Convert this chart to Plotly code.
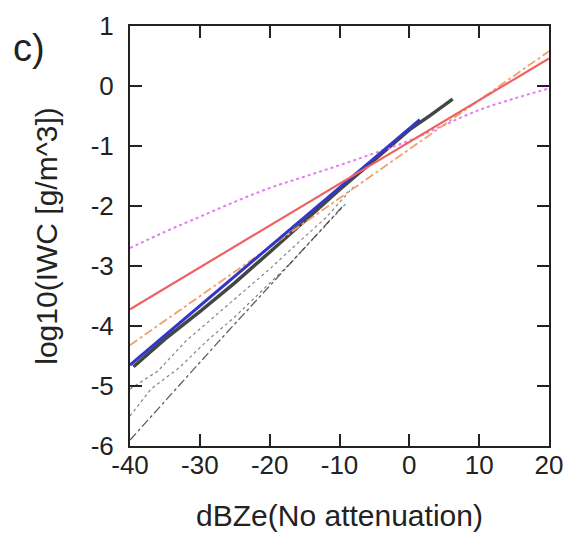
import plotly.graph_objects as go

# ---- data ----
pink_x = [-40, -35, -30, -25, -20, -15, -10, -5, 0, 5, 10, 15, 20]
pink_y = [-2.70, -2.43, -2.18, -1.93, -1.70, -1.51, -1.32, -1.12, -0.91, -0.65, -0.40, -0.21, -0.04]

red_x = [-40, 20]
red_y = [-3.72, 0.46]

orange_x = [-40, 20]
orange_y = [-4.32, 0.58]

blue_x = [-40, 1.5]
blue_y = [-4.65, -0.56]

band_x = [-39.5, -35, -30, -25, -20, -15, -10, -5, 0, 3, 6.2]
band_y = [-4.68, -4.22, -3.76, -3.28, -2.77, -2.25, -1.73, -1.23, -0.73, -0.49, -0.22]

mid1_x = [-40, -36, -32, -28, -24, -20, -16, -12, -8]
mid1_y = [-5.05, -4.75, -4.25, -3.85, -3.45, -3.05, -2.62, -2.20, -1.68]

mid2_x = [-40, -37, -33, -29, -25, -21, -17, -13, -9]
mid2_y = [-5.50, -5.05, -4.70, -4.25, -3.85, -3.40, -2.95, -2.45, -1.95]

low_x = [-40, -27, -9.5]
low_y = [-5.90, -4.22, -2.00]

x_ticks = [-40, -30, -20, -10, 0, 10, 20]
y_ticks = [-6, -5, -4, -3, -2, -1, 0, 1]

FONT = "Liberation Sans, Arial, sans-serif"
PAGE_OFFSET = 8  # default body margin of the html page

fig = go.Figure()

fig.add_trace(go.Scatter(x=mid2_x, y=mid2_y, mode="lines",
                         line=dict(color="rgba(50,50,50,0.6)", width=1.2, dash="dot")))
fig.add_trace(go.Scatter(x=mid1_x, y=mid1_y, mode="lines",
                         line=dict(color="rgba(50,50,50,0.6)", width=1.2, dash="dot")))
fig.add_trace(go.Scatter(x=low_x, y=low_y, mode="lines",
                         line=dict(color="rgba(40,40,40,0.75)", width=1.3, dash="dashdot")))
fig.add_trace(go.Scatter(x=band_x, y=band_y, mode="lines",
                         line=dict(color="rgba(20,25,20,0.8)", width=3.5)))
fig.add_trace(go.Scatter(x=pink_x, y=pink_y, mode="lines", line_shape="spline",
                         line=dict(color="#e27ef0", width=2, dash="dot")))
fig.add_trace(go.Scatter(x=orange_x, y=orange_y, mode="lines",
                         line=dict(color="#f0a070", width=1.8, dash="dashdot")))
fig.add_trace(go.Scatter(x=blue_x, y=blue_y, mode="lines",
                         line=dict(color="#3535c8", width=3)))
fig.add_trace(go.Scatter(x=red_x, y=red_y, mode="lines",
                         line=dict(color="#f06060", width=2.2)))

axis_common = dict(
    showgrid=False, zeroline=False, showline=True, linecolor="#222", linewidth=2,
    mirror="ticks", ticks="inside", ticklen=12, tickwidth=2, tickcolor="#222",
    automargin=False,
    tickfont=dict(family=FONT, size=26, color="#222"),
)

fig.update_layout(
    width=574 - PAGE_OFFSET, height=537 - PAGE_OFFSET,
    margin=dict(l=130 - PAGE_OFFSET, r=25, t=26 - PAGE_OFFSET, b=91),
    paper_bgcolor="white", plot_bgcolor="white",
    showlegend=False,
    xaxis=dict(range=[-40, 20], tickvals=x_ticks, ticktext=[str(v) for v in x_ticks],
               ticklabelstandoff=-5,
               title=dict(text="dBZe(No attenuation)", standoff=26,
                          font=dict(family=FONT, size=30, color="#222")),
               **axis_common),
    yaxis=dict(range=[-6, 1], tickvals=y_ticks, ticktext=[str(v) for v in y_ticks],
               ticklabelstandoff=9,
               title=dict(text="log10(IWC [g/m^3])", standoff=24,
                          font=dict(family=FONT, size=30, color="#222")),
               **axis_common),
    annotations=[dict(text="c)", x=(29 - 130) / 419, y=(446 - 48) / 420,
                      xref="paper", yref="paper", showarrow=False,
                      xanchor="center", yanchor="middle",
                      font=dict(family=FONT, size=38, color="#222"))],
)

fig.write_html("out.html")
